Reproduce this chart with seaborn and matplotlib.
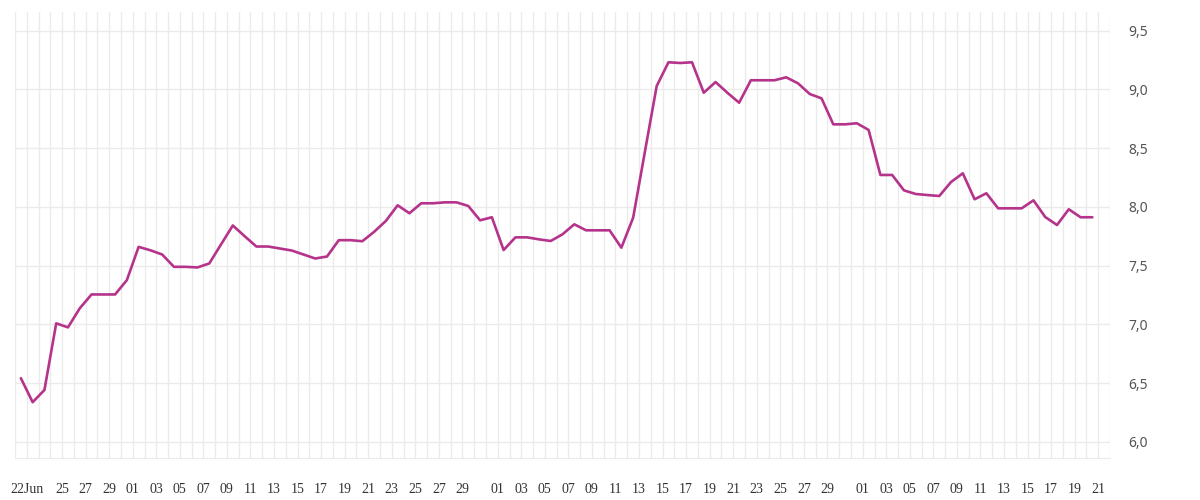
import pandas as pd
import numpy as np
import seaborn as sns
import matplotlib.pyplot as plt
from matplotlib.ticker import FixedLocator, FuncFormatter

# daily values, 22 Jun - 21 Sep
dates = pd.date_range('2024-06-22', '2024-09-21', freq='D')
values = [6.541, 6.337, 6.441, 7.008, 6.974, 7.136, 7.254, 7.254, 7.254, 7.376,
          7.659, 7.630, 7.594, 7.489, 7.489, 7.484, 7.518, 7.680, 7.841, 7.750,
          7.662, 7.662, 7.645, 7.628, 7.594, 7.560, 7.577, 7.716, 7.716, 7.707,
          7.787, 7.880, 8.013, 7.945, 8.030, 8.030, 8.038, 8.038, 8.007, 7.885,
          7.911, 7.632, 7.740, 7.740, 7.723, 7.709, 7.766, 7.851, 7.800, 7.800,
          7.800, 7.652, 7.907, 8.470, 9.028, 9.230, 9.224, 9.230, 8.971, 9.062,
          8.971, 8.886, 9.077, 9.077, 9.077, 9.102, 9.051, 8.960, 8.923, 8.702,
          8.702, 8.711, 8.654, 8.271, 8.271, 8.140, 8.109, 8.100, 8.092, 8.211,
          8.285, 8.064, 8.115, 7.987, 7.987, 7.987, 8.055, 7.913, 7.845, 7.979,
          7.911, 7.911]
y_ticks = [6.0, 6.5, 7.0, 7.5, 8.0, 8.5, 9.0, 9.5]

df = pd.DataFrame({'date': dates, 'value': values})
df['idx'] = np.arange(len(df))

sns.set_style('white')
fig = plt.figure(figsize=(12, 5), dpi=100)
ax = fig.add_axes([15 / 1200, 42 / 500, 1095 / 1200, 446 / 500])

sns.lineplot(data=df, x='idx', y='value', color='#b5338a', linewidth=1.9, ax=ax)

# one tick per day, labels only on odd days
tick_pos = np.arange(-1, len(df) + 1) + 0.5
labels = []
for p in tick_pos:
    i = int(p - 0.5)
    if i < 0 or i >= len(df):
        labels.append('')
        continue
    d = df['date'][i]
    if i == 0:
        labels.append(f'{d.day}{d.strftime("%b")}')
    elif d.day % 2 == 1 and d.day != 31 and i > 1:
        labels.append(f'{d.day:02d}')
    else:
        labels.append('')
ax.xaxis.set_major_locator(FixedLocator(tick_pos))
ax.set_xticklabels(labels, fontfamily='Liberation Serif', fontsize=10, color='#333333')
ax.set_xlim(-0.5, len(df) + 0.5)

ax.set_ylim(5.862, 9.658)
ax.yaxis.set_major_locator(FixedLocator(y_ticks))
ax.yaxis.set_major_formatter(FuncFormatter(lambda v, _: f'{v:.1f}'.replace('.', ',')))
ax.yaxis.tick_right()
for t in ax.get_yticklabels():
    t.set_fontfamily('Noto Sans')
    t.set_fontsize(10)
    t.set_color('#555555')

ax.grid(True, color='#ebebeb', linewidth=1)
ax.set_axisbelow(True)
ax.tick_params(axis='x', length=7.2, width=1, color='#ebebeb', pad=10.5)
ax.tick_params(axis='y', length=0, pad=13)
for s in ['top', 'left', 'right']:
    ax.spines[s].set_visible(False)
ax.spines['bottom'].set_color('#ebebeb')
ax.set_xlabel('')
ax.set_ylabel('')

plt.savefig('out.png', dpi=100)
